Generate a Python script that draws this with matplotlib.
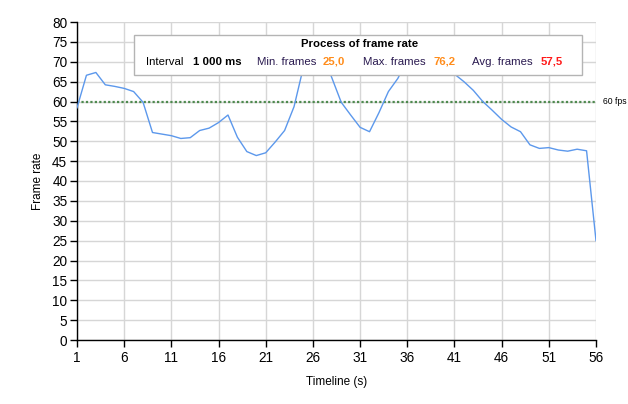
import matplotlib
matplotlib.use("Agg")
import matplotlib.pyplot as plt
from matplotlib.patches import Rectangle

plt.rcParams['font.family'] = ['Liberation Sans', 'DejaVu Sans']

seconds = list(range(1, 57))
frame_rate = [58.4, 66.6, 67.3, 64.2, 63.8, 63.3, 62.5, 59.8,
              52.2, 51.8, 51.4, 50.7, 50.9, 52.7, 53.3, 54.7, 56.6,
              51.0, 47.4, 46.4, 47.1, 49.8, 52.7, 58.7, 68.7,
              74.5, 72.0, 66.0, 59.8, 56.6, 53.5, 52.4, 57.2, 62.5, 65.8,
              70.5, 73.0, 76.2, 72.5, 69.9, 66.9, 65.0, 62.8, 60.0,
              57.8, 55.5, 53.6, 52.4, 49.1, 48.2, 48.4, 47.8, 47.5,
              48.0, 47.6, 25.0]
target_fps = 60
x_ticks = list(range(1, 57, 5))
y_ticks = list(range(0, 81, 5))

W, H = 628, 404
fig = plt.figure(figsize=(W / 100, H / 100), dpi=100)
ax = fig.add_axes([77 / W, 1 - 340 / H, (596 - 77) / W, (340 - 22) / H])

ax.plot(seconds, frame_rate, color='#5c98ec', lw=1.0, zorder=3)
ax.axhline(target_fps, color='#4f8a4f', lw=1.6, ls=(0, (1, 1)), zorder=2)

ax.set_xlim(1, 56)
ax.set_ylim(0, 80)
ax.set_xticks(x_ticks)
ax.set_yticks(y_ticks)
ax.grid(True, color='#d6d6d6', lw=1.0, zorder=0)
ax.set_axisbelow(True)
for s in ['top', 'right']:
    ax.spines[s].set_visible(False)
for s in ['left', 'bottom']:
    ax.spines[s].set_color('black')
    ax.spines[s].set_linewidth(1.0)
ax.tick_params(axis='both', direction='out', length=5, width=1, color='black',
               labelsize=9.8, pad=2)
ax.tick_params(axis='x', pad=3)
ax.set_xlabel('Timeline (s)', fontsize=8.5, labelpad=8)
ax.set_ylabel('Frame rate', fontsize=8.5, labelpad=6)

ax.text(1.014, (target_fps) / 80, '60 fps', transform=ax.transAxes,
        fontsize=6.2, va='center', ha='left')

# info box
box = Rectangle(((134 - 77) / 519, (340 - 75) / 318), (582 - 134) / 519, 40 / 318,
                transform=ax.transAxes, facecolor='white', edgecolor='#b4b4b4',
                lw=1.0, zorder=5, clip_on=False)
ax.add_patch(box)

def ft(x, y, s, **kw):
    fig.text(x / W, 1 - y / H, s, va='center', ha='left', fontsize=8.2, zorder=6, **kw)

fig.text(360 / W, 1 - 44 / H, 'Process of frame rate', ha='center', va='center',
         fontsize=8.2, fontweight='bold', zorder=6)
ft(146, 62, 'Interval')
ft(193, 62, '1 000 ms', fontweight='bold')
ft(257, 62, 'Min. frames', color='#2a1a50')
ft(323, 62, '25,0', fontweight='bold', color='#ff8c1a')
ft(363, 62, 'Max. frames', color='#2a1a50')
ft(433, 62, '76,2', fontweight='bold', color='#ff8c1a')
ft(472, 62, 'Avg. frames', color='#2a1a50')
ft(541, 62, '57,5', fontweight='bold', color='#ff1a1a')

fig.savefig('out.png', dpi=100)
